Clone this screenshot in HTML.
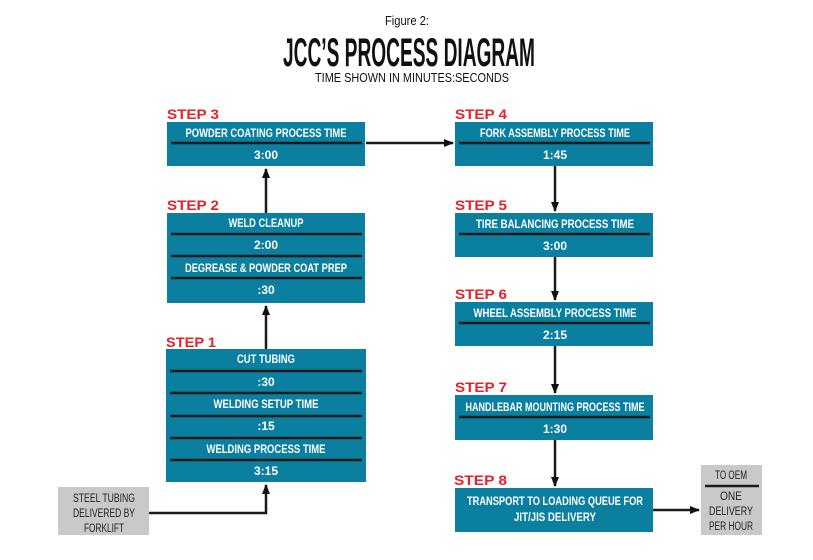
<!DOCTYPE html>
<html><head><meta charset="utf-8"><style>html,body{margin:0;padding:0;background:#fff}svg{display:block}</style></head>
<body>
<svg width="813" height="560" viewBox="0 0 813 560" xmlns="http://www.w3.org/2000/svg" font-family="Liberation Sans, sans-serif">
<defs><marker id="a" markerWidth="10" markerHeight="8" refX="9" refY="4" orient="auto" markerUnits="userSpaceOnUse"><path d="M0,0 L10,4 L0,8 Z" fill="#111"/></marker></defs>
<text x="407" y="25" font-size="13" text-anchor="middle" textLength="44" lengthAdjust="spacingAndGlyphs" fill="#111">Figure 2:</text>
<text x="409" y="66" font-size="40" font-weight="bold" text-anchor="middle" textLength="252" lengthAdjust="spacingAndGlyphs" fill="#111">JCC’S PROCESS DIAGRAM</text>
<text x="412" y="82" font-size="13" text-anchor="middle" textLength="194" lengthAdjust="spacingAndGlyphs" fill="#111">TIME SHOWN IN MINUTES:SECONDS</text>
<g fill="#0a7fa0">
<rect x="167" y="122" width="198" height="44"/>
<rect x="167" y="213" width="198" height="90"/>
<rect x="166" y="349" width="200" height="133"/>
<rect x="455" y="122" width="198" height="44"/>
<rect x="455" y="213" width="198" height="44"/>
<rect x="455" y="302" width="198" height="44"/>
<rect x="455" y="395" width="198" height="45"/>
<rect x="455" y="488" width="198" height="44"/>
</g>
<rect x="58" y="487" width="91" height="48" fill="#c8c9cb"/>
<rect x="701" y="465" width="61" height="70" fill="#c8c9cb"/>
<g stroke="#1a1a1a" stroke-width="2.5">
<line x1="171" y1="143" x2="362" y2="143"/>
<line x1="171" y1="234" x2="362" y2="234"/>
<line x1="171" y1="256" x2="362" y2="256"/>
<line x1="171" y1="278" x2="362" y2="278"/>
<line x1="170" y1="371" x2="362" y2="371"/>
<line x1="170" y1="393" x2="362" y2="393"/>
<line x1="170" y1="416" x2="362" y2="416"/>
<line x1="170" y1="438" x2="362" y2="438"/>
<line x1="170" y1="460" x2="362" y2="460"/>
<line x1="459" y1="143" x2="650" y2="143"/>
<line x1="459" y1="234" x2="650" y2="234"/>
<line x1="459" y1="323" x2="650" y2="323"/>
<line x1="459" y1="417" x2="650" y2="417"/>
<line x1="705" y1="486" x2="759" y2="486"/>
</g>
<g stroke="#1a1a1a" stroke-width="2.5" fill="none" marker-end="url(#a)">
<line x1="366" y1="143" x2="453" y2="143"/>
<line x1="266" y1="213" x2="266" y2="169"/>
<line x1="266" y1="349" x2="266" y2="306"/>
<polyline points="149,513 266,513 266,485"/>
<line x1="555" y1="166" x2="555" y2="211"/>
<line x1="555" y1="257" x2="555" y2="300"/>
<line x1="555" y1="346" x2="555" y2="393"/>
<line x1="555" y1="440" x2="555" y2="486"/>
<line x1="653" y1="510" x2="699" y2="510"/>
</g>
<g font-size="14" font-weight="bold" fill="#e8202a">
<text x="167" y="119" textLength="52" lengthAdjust="spacingAndGlyphs">STEP 3</text>
<text x="167" y="210" textLength="52" lengthAdjust="spacingAndGlyphs">STEP 2</text>
<text x="166" y="347" textLength="50" lengthAdjust="spacingAndGlyphs">STEP 1</text>
<text x="455" y="119" textLength="52" lengthAdjust="spacingAndGlyphs">STEP 4</text>
<text x="455" y="210" textLength="52" lengthAdjust="spacingAndGlyphs">STEP 5</text>
<text x="455" y="299" textLength="52" lengthAdjust="spacingAndGlyphs">STEP 6</text>
<text x="455" y="392" textLength="52" lengthAdjust="spacingAndGlyphs">STEP 7</text>
<text x="454" y="485" textLength="53" lengthAdjust="spacingAndGlyphs">STEP 8</text>
</g>
<g font-size="11.5" font-weight="bold" fill="#fff" text-anchor="middle" lengthAdjust="spacingAndGlyphs">
<text x="266" y="137" textLength="161" lengthAdjust="spacingAndGlyphs">POWDER COATING PROCESS TIME</text>
<text x="266" y="159" font-size="12">3:00</text>
<text x="266" y="227" textLength="75" lengthAdjust="spacingAndGlyphs">WELD CLEANUP</text>
<text x="266" y="249" font-size="12">2:00</text>
<text x="266" y="272" textLength="162" lengthAdjust="spacingAndGlyphs">DEGREASE &amp; POWDER COAT PREP</text>
<text x="266" y="294" font-size="12">:30</text>
<text x="266" y="363" textLength="58" lengthAdjust="spacingAndGlyphs">CUT TUBING</text>
<text x="266" y="386" font-size="12">:30</text>
<text x="266" y="408" textLength="105" lengthAdjust="spacingAndGlyphs">WELDING SETUP TIME</text>
<text x="266" y="430" font-size="12">:15</text>
<text x="266" y="453" textLength="119" lengthAdjust="spacingAndGlyphs">WELDING PROCESS TIME</text>
<text x="266" y="475" font-size="12">3:15</text>
<text x="555" y="137" textLength="150" lengthAdjust="spacingAndGlyphs">FORK ASSEMBLY PROCESS TIME</text>
<text x="555" y="159" font-size="12">1:45</text>
<text x="555" y="228" textLength="158" lengthAdjust="spacingAndGlyphs">TIRE BALANCING PROCESS TIME</text>
<text x="555" y="250" font-size="12">3:00</text>
<text x="555" y="317" textLength="163" lengthAdjust="spacingAndGlyphs">WHEEL ASSEMBLY PROCESS TIME</text>
<text x="555" y="339" font-size="12">2:15</text>
<text x="555" y="411" textLength="179" lengthAdjust="spacingAndGlyphs">HANDLEBAR MOUNTING PROCESS TIME</text>
<text x="555" y="433" font-size="12">1:30</text>
<text x="555" y="505" textLength="176" lengthAdjust="spacingAndGlyphs">TRANSPORT TO LOADING QUEUE FOR</text>
<text x="555" y="521" textLength="82" lengthAdjust="spacingAndGlyphs">JIT/JIS DELIVERY</text>
</g>
<g font-size="11.5" fill="#222" text-anchor="middle">
<text x="104" y="502" textLength="62" lengthAdjust="spacingAndGlyphs">STEEL TUBING</text>
<text x="104" y="517" textLength="62" lengthAdjust="spacingAndGlyphs">DELIVERED BY</text>
<text x="104" y="532" textLength="40" lengthAdjust="spacingAndGlyphs">FORKLIFT</text>
<text x="731" y="479" textLength="32" lengthAdjust="spacingAndGlyphs">TO OEM</text>
<text x="731" y="500" textLength="22" lengthAdjust="spacingAndGlyphs">ONE</text>
<text x="731" y="515" textLength="44" lengthAdjust="spacingAndGlyphs">DELIVERY</text>
<text x="731" y="530" textLength="44" lengthAdjust="spacingAndGlyphs">PER HOUR</text>
</g>
</svg>
</body></html>
